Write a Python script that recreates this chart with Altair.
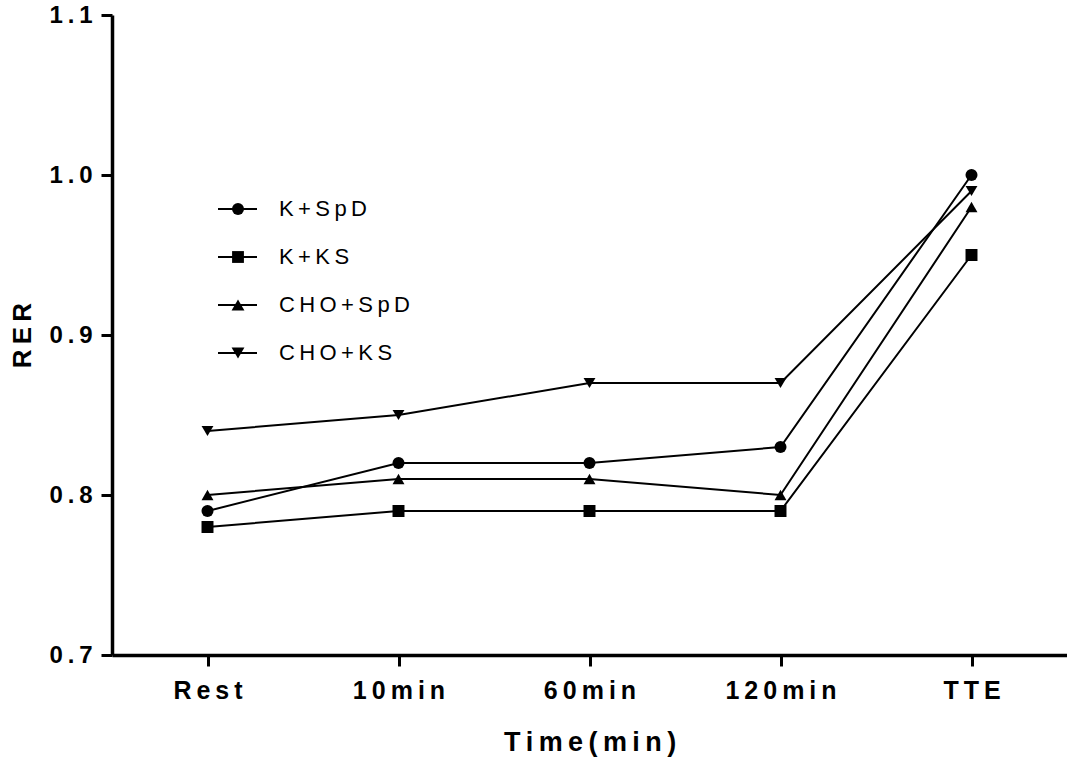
import altair as alt
import pandas as pd

# Time points and respiratory exchange ratio per condition
categories = ["Rest", "10min", "60min", "120min", "TTE"]
series_names = ["K+SpD", "K+KS", "CHO+SpD", "CHO+KS"]
k_spd = [0.79, 0.82, 0.82, 0.83, 1.00]
k_ks = [0.78, 0.79, 0.79, 0.79, 0.95]
cho_spd = [0.80, 0.81, 0.81, 0.80, 0.98]
cho_ks = [0.84, 0.85, 0.87, 0.87, 0.99]
y_ticks = [0.7, 0.8, 0.9, 1.0, 1.1]

shapes = ["circle", "square", "triangle-up", "triangle-down"]
marker_sizes = [145, 140, 165, 165]
values_by_series = [k_spd, k_ks, cho_spd, cho_ks]

rows = []
for name, vals in zip(series_names, values_by_series):
    for t, v in zip(categories, vals):
        rows.append({"series": name, "time": t, "value": v})
df = pd.DataFrame(rows)

FONT = "Liberation Sans"
SP = "\u2009"  # thin space used as letter spacing
spaced_label = "join(split(datum.label, ''), '" + SP + "')"
spaced_num = "join(split(format(datum.value, '.1f'), ''), '" + SP + "')"

x_enc = alt.X(
    "time:O",
    sort=categories,
    scale=alt.Scale(type="point", padding=0.5),
    axis=alt.Axis(
        title="T" + SP + "i" + SP + "m" + SP + "e" + SP + "(" + SP + "m" + SP + "i" + SP + "n" + SP + ")",
        labelAngle=0,
        labelExpr=spaced_label,
        labelFont=FONT,
        labelFontSize=25,
        labelFontWeight="bold",
        labelColor="black",
        labelPadding=12,
        titleFont=FONT,
        titleFontSize=27,
        titleFontWeight="bold",
        titleColor="black",
        titlePadding=26,
        domainColor="black",
        domainWidth=3.5,
        tickColor="black",
        tickWidth=3,
        tickSize=11,
        grid=False,
    ),
)
y_enc = alt.Y(
    "value:Q",
    scale=alt.Scale(domain=[0.7, 1.1], nice=False, zero=False),
    axis=alt.Axis(
        title="R" + SP + "E" + SP + "R",
        values=y_ticks,
        labelExpr=spaced_num,
        labelFont=FONT,
        labelFontSize=24,
        labelFontWeight="bold",
        labelColor="black",
        labelPadding=9,
        titleFont=FONT,
        titleFontSize=26,
        titleFontWeight="bold",
        titleColor="black",
        titlePadding=14,
        domainColor="black",
        domainWidth=3.5,
        tickColor="black",
        tickWidth=3,
        tickSize=11,
        grid=False,
    ),
)

base = alt.Chart(df).encode(x=x_enc, y=y_enc, detail="series:N")
lines = base.mark_line(color="black", strokeWidth=2)
points = base.mark_point(filled=True, color="black", opacity=1).encode(
    shape=alt.Shape("series:N", scale=alt.Scale(domain=series_names, range=shapes), legend=None),
    size=alt.Size("series:N", scale=alt.Scale(domain=series_names, range=marker_sizes), legend=None),
)

# Hand-built legend inside the plot area
legend_layers = []
for i, (name, shp, msz) in enumerate(zip(series_names, shapes, marker_sizes)):
    ly = 194 + 48 * i
    ldf = pd.DataFrame({"label": [name]})
    legend_layers.append(
        alt.Chart(ldf).mark_rule(color="black", strokeWidth=2).encode(
            x=alt.value(106), x2=alt.value(145), y=alt.value(ly)
        )
    )
    legend_layers.append(
        alt.Chart(ldf).mark_point(filled=True, color="black", opacity=1, size=msz, shape=shp).encode(
            x=alt.value(126), y=alt.value(ly)
        )
    )
    legend_layers.append(
        alt.Chart(ldf)
        .transform_calculate(shown="join(split(datum.label, ''), '" + SP + "')")
        .mark_text(align="left", baseline="middle", font=FONT, fontSize=22, color="black")
        .encode(x=alt.value(167), y=alt.value(ly), text="shown:N")
    )

chart = (
    alt.layer(lines, points, *legend_layers)
    .properties(
        width=955,
        height=640,
        autosize=alt.AutoSizeParams(type="none"),
        padding={"left": 112, "top": 15, "right": 0, "bottom": 109},
        background="white",
    )
    .configure_view(stroke=None)
)

chart.save("out.html", embed_options={"renderer": "svg", "actions": False})
